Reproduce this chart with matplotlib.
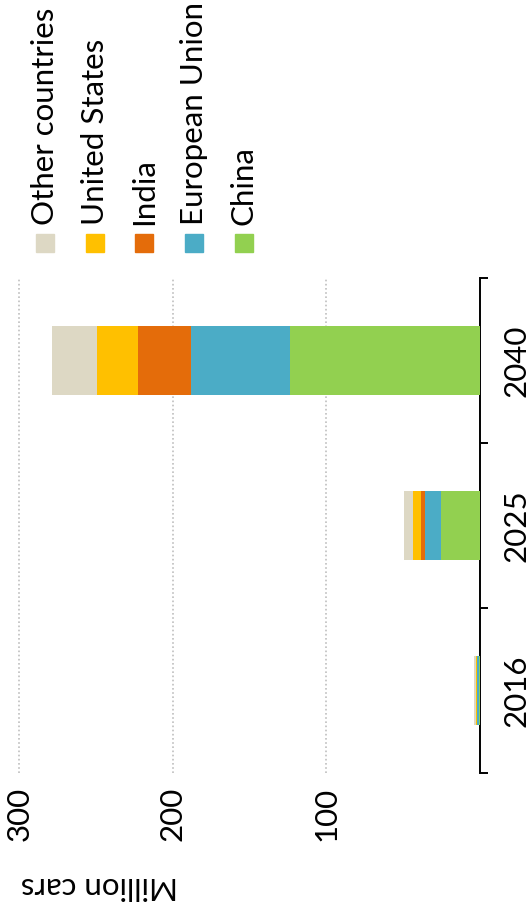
import matplotlib
matplotlib.use("Agg")
import matplotlib.pyplot as plt
from matplotlib.patches import Rectangle
import numpy as np

plt.rcParams['font.family'] = ['Lato', 'DejaVu Sans']

# EV stock by region (million cars)
years = ['2016', '2025', '2040']
china = [0.9, 25.4, 123.5]
eu = [1.3, 10.4, 64.6]
india = [0.02, 2.6, 34.4]
us = [0.08, 5.2, 27.0]
other = [1.3, 5.9, 29.2]

series = [china, eu, india, us, other]
names = ['China', 'European Union', 'India', 'United States', 'Other countries']
colors = ['#92D050', '#4BACC6', '#E46C0A', '#FFC000', '#DDD8C4']
value_ticks = [100, 200, 300]

W, H = 531, 906
FS = 22.5
fig = plt.figure(figsize=(W / 100, H / 100), dpi=100)
# chart is drawn turned a quarter turn: values run to the left, years bottom to top
ax = fig.add_axes([4 / W, 1 - 773 / H, 476 / W, 495 / H])

ypos = np.arange(len(years))
left = np.zeros(len(years))
for vals, c in zip(series, colors):
    ax.barh(ypos, vals, left=left, height=0.42, color=c, zorder=3)
    left += np.array(vals)

ax.set_xlim(0, 310)
ax.invert_xaxis()
ax.set_ylim(-0.5, len(years) - 0.5)

for s in ['top', 'bottom', 'left']:
    ax.spines[s].set_visible(False)
ax.spines['right'].set_linewidth(1.4)

ax.set_xticks(value_ticks)
ax.set_xticklabels([str(v) for v in value_ticks], rotation=90, fontsize=FS)
ax.tick_params(axis='x', length=0, pad=10)
ax.grid(axis='x', color='#BFBFBF', linestyle=(0, (1, 1.5)), linewidth=1.2, zorder=0)

ax.yaxis.tick_right()
ax.set_yticks(np.arange(-0.5, len(years), 1.0))
ax.set_yticklabels([])
ax.set_yticks(ypos, minor=True)
ax.set_yticklabels(years, minor=True, rotation=90, va='center', fontsize=FS)
ax.tick_params(axis='y', which='major', length=6, width=1.4, direction='out')
ax.tick_params(axis='y', which='minor', length=0, pad=16)

fig.text(99 / W, 1 - 886 / H, 'Million cars', rotation=180, ha='center', va='center', fontsize=FS)

# legend, turned like the chart
order = ['Other countries', 'United States', 'India', 'European Union', 'China']
for i, nm in enumerate(order):
    c = colors[names.index(nm)]
    cx = 45 + i * 49.7
    fig.patches.append(Rectangle(((cx - 9) / W, 1 - 252 / H), 18 / W, 18 / H,
                                 transform=fig.transFigure, color=c, figure=fig))
    fig.text(cx / W, 1 - 225 / H, nm, rotation=90, ha='center', va='bottom', fontsize=FS)

fig.savefig('out.png', dpi=100)
